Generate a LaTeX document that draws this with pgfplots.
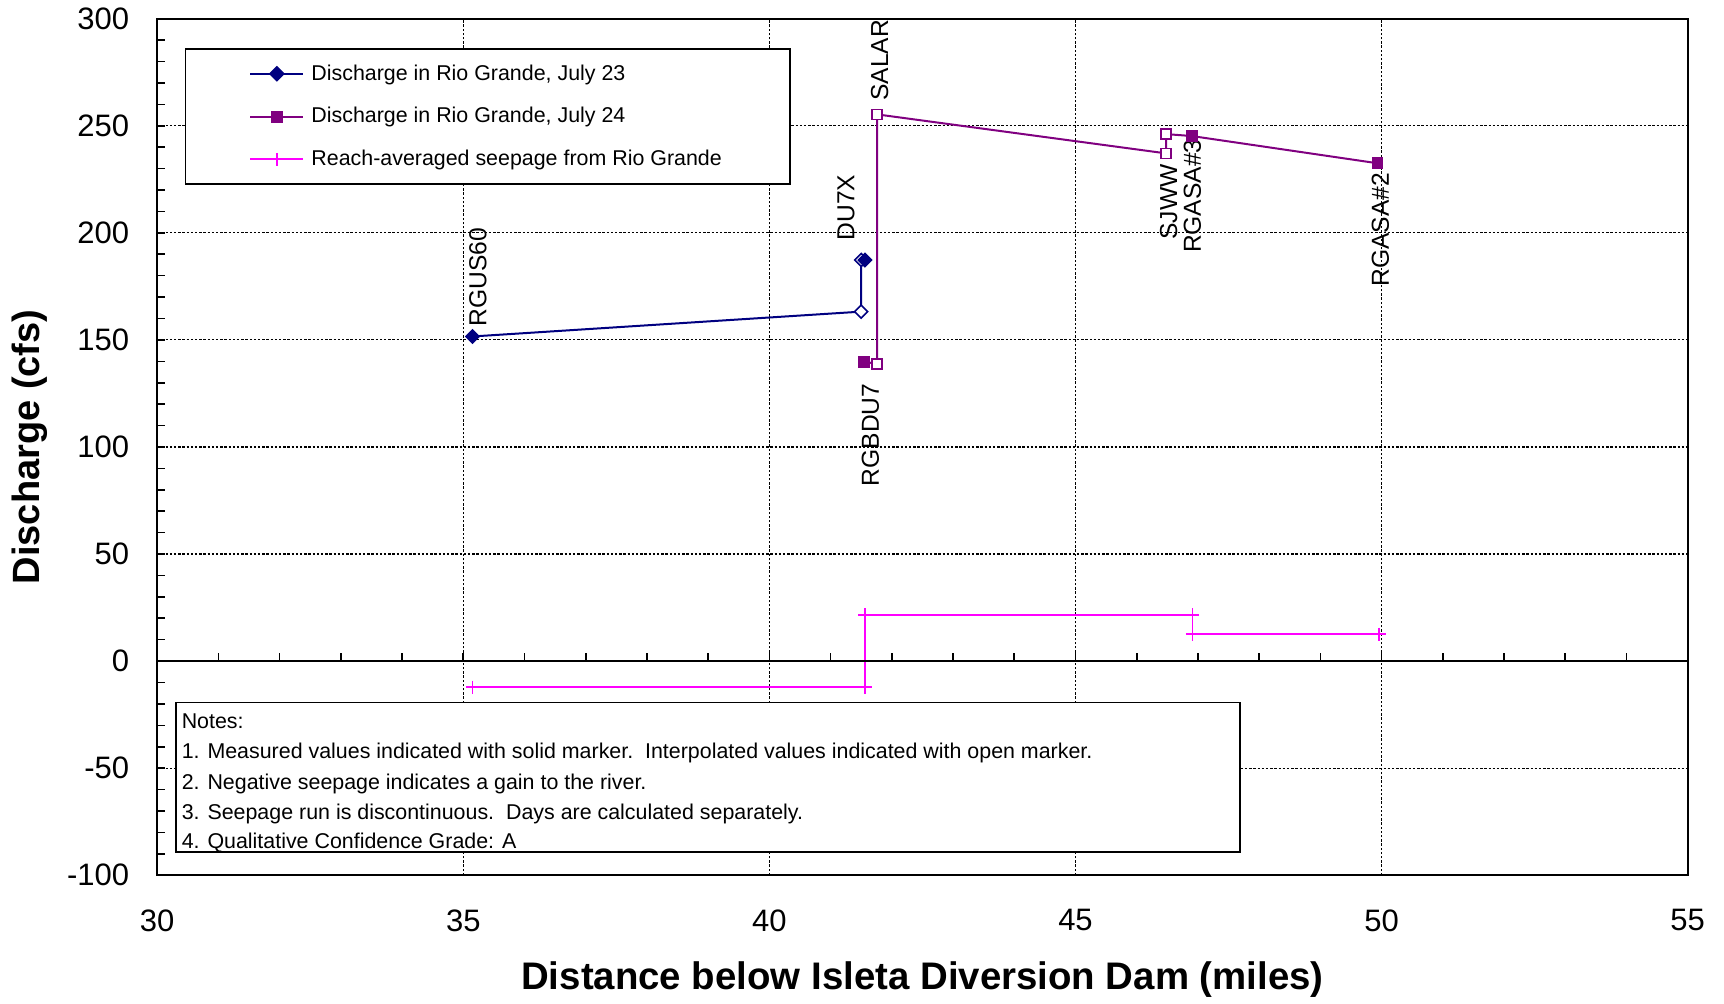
\documentclass[border=0pt]{standalone}
\usepackage{pgfplots}
\pgfplotsset{compat=1.18}
\usepackage{fontspec}
\setmainfont{Liberation Sans}
\definecolor{navyc}{RGB}{0,0,128}
\definecolor{purplec}{RGB}{128,0,128}
\definecolor{magc}{RGB}{255,0,255}
\newcommand{\notefont}{\fontsize{10.7}{12.8}\selectfont}
\newcommand{\stafont}{\fontsize{12.3}{14}\selectfont}
\begin{document}
\begin{tikzpicture}
\begin{axis}[
  name=ax,
  scale only axis,
  width=765.3pt, height=428.3pt,
  xmin=30, xmax=55, ymin=-100, ymax=300,
  xtick={30,35,...,55},
  ytick={-100,-50,...,300},
  minor y tick num=4,
  tick align=inside,
  ytick pos=left,
  xtick pos=bottom,
  xtick style={draw=none},
  ytick style={black, line width=0.8pt},
  major tick length=4pt, minor tick length=4pt,
  grid=major,
  major grid style={black, line width=0.6pt, dash pattern=on 1.2pt off 0.9pt},
  axis line style={line width=0.85pt},
  tick label style={font=\fontsize{15.5}{18}\selectfont, inner sep=1pt},
  /pgf/number format/assume math mode=true,
  xticklabel style={yshift=-16pt},
  yticklabel style={xshift=-12.8pt},
  xlabel={Distance below Isleta Diversion Dam (miles)},
  ylabel={Discharge (cfs)},
  every axis x label/.style={at={([yshift=-52.2pt]rel axis cs:0.5,0)}, anchor=center, inner sep=0pt, font=\bfseries\fontsize{19.2}{22}\selectfont},
  every axis y label/.style={at={([xshift=-63.8pt]rel axis cs:0,0.5)}, anchor=center, rotate=90, inner sep=0pt, font=\bfseries\fontsize{19}{22}\selectfont},
  legend style={at={(0.018,0.9653)}, anchor=north west, draw=black, line width=0.7pt, fill=white,
    font=\notefont, inner xsep=32pt, inner ysep=5.7pt, row sep=8.15pt, cells={anchor=west}},
  legend image code/.code={\draw[mark repeat=2,mark phase=2] plot coordinates {(0pt,0pt) (13.2pt,0pt) (26.4pt,0pt)}; \path (28pt,0pt);},
]
% July 23
\addplot[navyc, line width=1pt, forget plot] coordinates {(35.15,151.6) (41.50,163.2) (41.50,187.3) (41.56,187.3)};
\addplot[navyc, only marks, mark=square*, mark size=2.3pt, mark options={rotate=45, fill=white, line width=0.8pt}, forget plot] coordinates {(41.50,163.2) (41.50,187.3)};
\addplot[navyc, only marks, mark=square*, mark size=2.3pt, mark options={rotate=45, fill=navyc, line width=0.8pt}, forget plot] coordinates {(35.15,151.6) (41.56,187.3)};
% July 24
\addplot[purplec, line width=1pt, forget plot] coordinates {(41.55,139.8) (41.76,138.8) (41.76,255.3) (46.48,237.1) (46.48,246.1) (46.90,245.2) (49.93,232.5)};
\addplot[purplec, only marks, mark=square*, mark size=2.5pt, mark options={fill=white, line width=0.8pt}, forget plot] coordinates {(41.76,138.8) (41.76,255.3) (46.48,237.1) (46.48,246.1)};
\addplot[purplec, only marks, mark=square*, mark size=2.5pt, mark options={fill=purplec, line width=0.8pt}, forget plot] coordinates {(41.55,139.8) (46.90,245.2) (49.93,232.5)};
% Seepage
\addplot[magc, line width=0.9pt, mark=+, mark size=3.3pt, mark options={line width=0.9pt}, forget plot] coordinates {(35.15,-12.2) (41.56,-12.2) (41.56,21.6) (46.91,21.6) (46.91,12.5) (49.96,12.5)};
% legend images
\addlegendimage{navyc, line width=1pt, mark=square*, mark size=2.3pt, mark options={rotate=45, fill=navyc}}
\addlegendentry{Discharge in Rio Grande, July 23}
\addlegendimage{purplec, line width=1pt, mark=square*, mark size=2.5pt, mark options={fill=purplec}}
\addlegendentry{Discharge in Rio Grande, July 24}
\addlegendimage{magc, line width=0.9pt, mark=+, mark size=3.3pt}
\addlegendentry{Reach-averaged seepage from Rio Grande}
% zero line and its ticks
\draw[black, line width=0.85pt] (axis cs:30,0) -- (axis cs:55,0);
\pgfplotsinvokeforeach{31,...,54}{\draw[black, line width=0.8pt] (axis cs:#1,0) -- ++(0pt,4pt);}
% station labels
\node[rotate=90, anchor=west, inner sep=0pt, font=\stafont] at (axis cs:35.24,156.2) {RGUS60};
\node[rotate=90, anchor=west, inner sep=0pt, font=\stafont] at (axis cs:41.25,196.3) {DU7X};
\node[rotate=90, anchor=west, inner sep=0pt, font=\stafont] at (axis cs:41.80,261.5) {SALAR};
\node[rotate=90, anchor=east, inner sep=0pt, font=\stafont] at (axis cs:41.65,129.7) {RGBDU7};
\node[rotate=90, anchor=west, inner sep=0pt, font=\stafont] at (axis cs:46.52,196.6) {SJWW};
\node[rotate=90, anchor=west, inner sep=0pt, font=\stafont] at (axis cs:46.91,190.4) {RGASA\#3};
\node[rotate=90, anchor=west, inner sep=0pt, font=\stafont] at (axis cs:49.98,174.8) {RGASA\#2};
% notes box
\draw[black, line width=0.7pt, fill=white] (rel axis cs:0.0123,0.0271) rectangle (rel axis cs:0.7075,0.2015);
\node[anchor=west, inner sep=0pt, font=\notefont] at (rel axis cs:0.0158,0.1797) {Notes:};
\node[anchor=west, inner sep=0pt, font=\notefont] at (rel axis cs:0.0158,0.1424) {1. Measured values indicated with solid marker.\ \ Interpolated values indicated with open marker.};
\node[anchor=west, inner sep=0pt, font=\notefont] at (rel axis cs:0.0158,0.1066) {2. Negative seepage indicates a gain to the river.};
\node[anchor=west, inner sep=0pt, font=\notefont] at (rel axis cs:0.0158,0.0719) {3. Seepage run is discontinuous.\ \ Days are calculated separately.};
\node[anchor=west, inner sep=0pt, font=\notefont] at (rel axis cs:0.0158,0.0374) {4. Qualitative Confidence Grade: A};
\end{axis}
\pgfresetboundingbox
\path[use as bounding box] ([xshift=-78.6pt,yshift=-63.9pt]ax.south west) rectangle ([xshift=18.15pt,yshift=9.35pt]ax.north east);
\end{tikzpicture}
\end{document}
